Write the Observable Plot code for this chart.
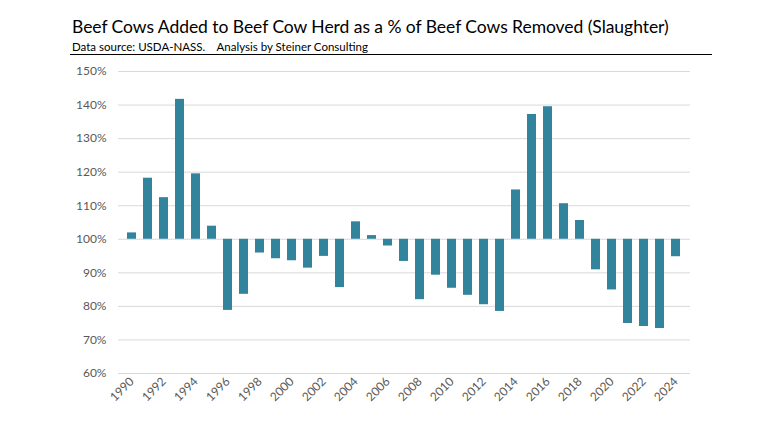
<!DOCTYPE html>
<html>
<head>
<meta charset="utf-8">
<script src="https://cdn.jsdelivr.net/npm/d3@7"></script>
<script src="https://cdn.jsdelivr.net/npm/@observablehq/plot@0.6"></script>
<style>
  html, body { margin: 0; padding: 0; background: #fff; }
  #wrap { position: relative; width: 780px; height: 439px; overflow: hidden; }
  #title { position: absolute; left: 72px; top: 16px; font-family: Lato, "Open Sans", sans-serif; font-size: 17.5px; color: #000; white-space: nowrap; letter-spacing: -0.05px; }
  #subtitle { position: absolute; left: 72px; top: 40px; font-family: Lato, "Open Sans", sans-serif; font-size: 11.5px; color: #000; white-space: nowrap; }
  #rule { position: absolute; left: 70px; top: 54px; width: 642px; height: 0; border-top: 1.5px solid #000; }
  #chart { position: absolute; left: 0; top: 0; }
</style>
</head>
<body>
<div id="wrap">
  <div id="chart"></div>
  <div id="title">Beef Cows Added to Beef Cow Herd as a % of Beef Cows Removed (Slaughter)</div>
  <div id="subtitle">Data source: USDA-NASS.&nbsp;&nbsp;&nbsp; Analysis by Steiner Consulting</div>
  <div id="rule"></div>
</div>
<script>
const years = [1990,1991,1992,1993,1994,1995,1996,1997,1998,1999,
               2000,2001,2002,2003,2004,2005,2006,2007,2008,2009,
               2010,2011,2012,2013,2014,2015,2016,2017,2018,2019,
               2020,2021,2022,2023,2024];
const pctAddedOfRemoved = [101.9,118.2,112.4,141.7,119.5,103.9,78.8,83.6,95.9,94.2,
                           93.6,91.4,94.9,85.6,105.2,101.1,98.0,93.4,82.0,89.3,
                           85.4,83.3,80.5,78.5,114.7,137.2,139.5,110.6,105.6,90.9,
                           84.9,74.9,74.0,73.4,94.8];
const yTicks = [60,70,80,90,100,110,120,130,140,150];
const xTickYears = [1990,1992,1994,1996,1998,2000,2002,2004,2006,2008,2010,2012,2014,2016,2018,2020,2022,2024];

const data = years.map((yr, i) => ({year: yr, value: pctAddedOfRemoved[i]}));

const chart = Plot.plot({
  width: 780,
  height: 439,
  marginTop: 71,
  marginBottom: 66,
  marginLeft: 118,
  marginRight: 90,
  style: {fontFamily: "Lato, 'Open Sans', sans-serif", fontSize: "12px", color: "#595959", background: "transparent"},
  x: {type: "band", domain: years, paddingInner: 0.43, paddingOuter: 0.215, axis: null},
  y: {domain: [60, 150], axis: null},
  marks: [
    Plot.gridY(yTicks, {stroke: "#d9d9d9", strokeOpacity: 1, strokeWidth: 1}),
    Plot.barY(data, {x: "year", y1: 100, y2: "value", fill: "#31849b"}),
    Plot.axisY({ticks: yTicks, tickSize: 0, tickPadding: 12, tickFormat: d => d + "%", label: null, fill: "#595959"}),
    Plot.axisX({ticks: xTickYears, tickSize: 0, tickRotate: -45, tickPadding: 6, label: null, fill: "#595959", tickFormat: d => String(d)})
  ]
});
document.getElementById("chart").appendChild(chart);
</script>
</body>
</html>
